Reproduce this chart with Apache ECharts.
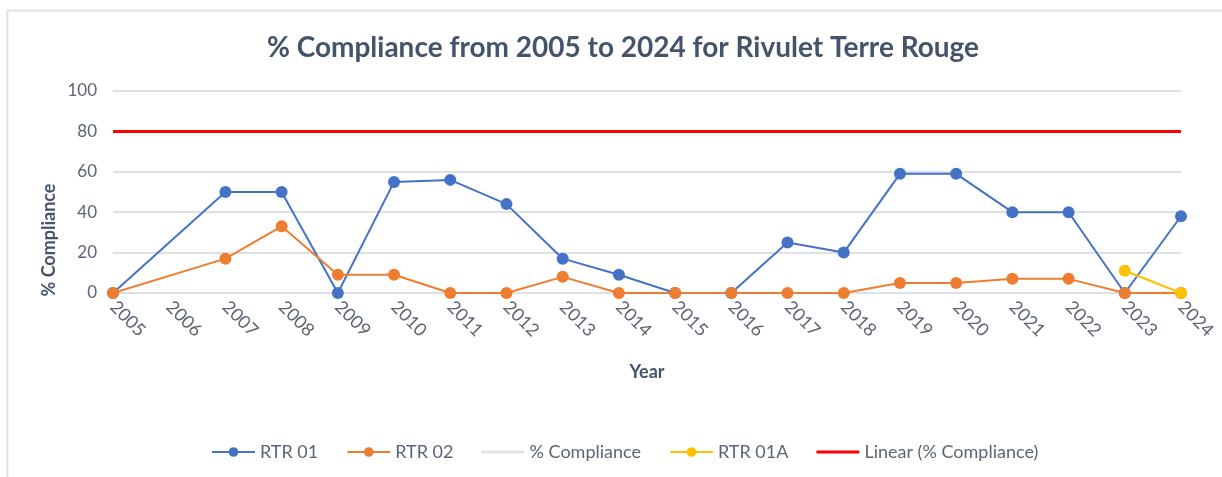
<!DOCTYPE html>
<html><head><meta charset="utf-8">
<script src="https://cdn.jsdelivr.net/npm/echarts@6/dist/echarts.min.js"></script>
<style>html,body{margin:0;padding:0;background:#fff}#c{width:1222px;height:477px}</style>
</head><body><div id="c"></div>
<script>
const years = ['2005','2006','2007','2008','2009','2010','2011','2012','2013','2014','2015','2016','2017','2018','2019','2020','2021','2022','2023','2024'];
const rtr01 = [0,null,50,50,0,55,56,44,17,9,0,0,25,20,59,59,40,40,0,38];
const rtr02 = [0,null,17,33,9,9,0,0,8,0,0,0,0,0,5,5,7,7,0,0];
const compliance = [null,null,null,null,null,null,null,null,null,null,null,null,null,null,null,null,null,null,null,null];
const rtr01a = [null,null,null,null,null,null,null,null,null,null,null,null,null,null,null,null,null,null,11,0];
const linear = [80,80,80,80,80,80,80,80,80,80,80,80,80,80,80,80,80,80,80,80];
const yTicks = [0,20,40,60,80,100];

const font = 'Lato';
const txt = '#5B6573';
const chart = echarts.init(document.getElementById('c'));
const lineSeries = (name, data, color, opts) => Object.assign({
  name, type:'line', data, connectNulls:true, symbol:'circle', symbolSize:12,
  lineStyle:{color, width:2}, itemStyle:{color}, z:3
}, opts||{});
const barIcon = 'path://M0,0H40V3H0Z';
chart.setOption({
  animation:false,
  textStyle:{fontFamily:font},
  title:{text:'% Compliance from 2005 to 2024 for Rivulet Terre Rouge', left:618, textAlign:'center', top:29,
    textStyle:{fontFamily:font, fontSize:28, fontWeight:'bold', color:'#44546A'}},
  graphic:[
    {type:'rect', shape:{x:7.5,y:10.5,width:1400,height:600}, style:{fill:'none', stroke:'#DDE1E6', lineWidth:2}, silent:true},
    {type:'text', x:49, y:240, rotation:Math.PI/2, silent:true,
      style:{text:'% Compliance', fontFamily:'Lato', fontSize:18, fontWeight:'bold', fill:'#44546A', align:'center', verticalAlign:'middle'}}
  ],
  grid:{left:113, right:41, top:91, bottom:184},
  legend:{top:438, left:206, itemWidth:43, itemHeight:12, itemGap:28,
    textStyle:{fontFamily:font, fontSize:18, color:txt},
    data:[
      {name:'RTR 01'},
      {name:'RTR 02'},
      {name:'% Compliance', icon:barIcon, itemStyle:{color:'#E2E5EA'}},
      {name:'RTR 01A'},
      {name:'Linear (% Compliance)', icon:barIcon, itemStyle:{color:'#FF0000'}}
    ]},
  xAxis:{type:'category', data:years, boundaryGap:false,
    name:'Year', nameLocation:'middle', nameGap:70,
    nameTextStyle:{fontFamily:font, fontSize:18, fontWeight:'bold', color:'#44546A'},
    axisLine:{show:false}, axisTick:{show:false},
    axisLabel:{rotate:-45, fontSize:18, color:txt, margin:11, interval:0}},
  yAxis:{type:'value', min:0, max:100, interval:20,
    axisLabel:{fontSize:17, color:txt, margin:16, formatter:v=>yTicks.includes(v)?String(v):''},
    splitLine:{lineStyle:{color:'#DDE1E6', width:2}}},
  series:[
    lineSeries('RTR 01', rtr01, '#4472C4'),
    lineSeries('RTR 02', rtr02, '#ED7D31'),
    lineSeries('% Compliance', compliance, '#E2E5EA', {symbol:'none', lineStyle:{color:'#E2E5EA', width:3}}),
    lineSeries('RTR 01A', rtr01a, '#FFC000', {z:4}),
    lineSeries('Linear (% Compliance)', linear, '#FF0000', {symbol:'none', lineStyle:{color:'#FF0000', width:3}, z:2})
  ]
});
</script></body></html>
